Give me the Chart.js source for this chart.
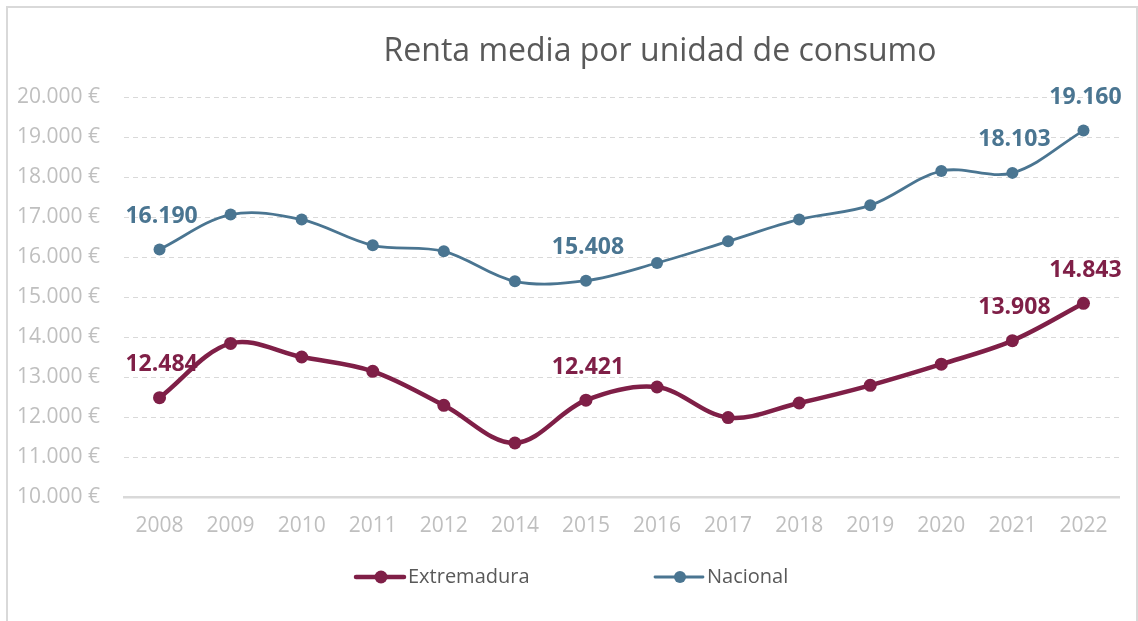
<!DOCTYPE html>
<html lang="es">
<head>
<meta charset="utf-8">
<title>Renta media por unidad de consumo</title>
<script src="https://cdn.jsdelivr.net/npm/chart.js@4.4.1/dist/chart.umd.min.js"></script>
<style>
  html, body { margin: 0; padding: 0; background: #fff; overflow: hidden; }
  #frame { position: absolute; left: 6px; top: 6px; width: 1128px; height: 700px; border: 2px solid #d9d9d9; }
  #wrap { position: absolute; left: 0; top: 0; width: 1138px; height: 621px; }
</style>
</head>
<body>
<div id="frame"></div>
<div id="wrap"><canvas id="renta" width="1138" height="621"></canvas></div>
<script>
// Renta media por unidad de consumo (euros)
const years = ["2008", "2009", "2010", "2011", "2012", "2014", "2015", "2016", "2017", "2018", "2019", "2020", "2021", "2022"];
const extremadura = [12484, 13840, 13500, 13142, 12292, 11350, 12421, 12750, 11985, 12350, 12792, 13320, 13908, 14843];
const nacional = [16190, 17060, 16935, 16292, 16142, 15393, 15408, 15850, 16392, 16940, 17292, 18150, 18103, 19160];
const labelledYears = ["2008", "2015", "2021", "2022"];

const FONT = "'Open Sans', sans-serif";
const TEXT_GREY = "#595959";
const TICK_GREY = "#bfbfbf";

// 16190 -> "16.190"
const fmt = (v) => String(Math.round(v)).replace(/\B(?=(\d{3})+(?!\d))/g, ".");

const chartTitle = {
  id: "chartTitle",
  afterDraw(chart) {
    const ctx = chart.ctx;
    ctx.save();
    ctx.font = "32px " + FONT;
    ctx.fillStyle = TEXT_GREY;
    ctx.textAlign = "center";
    ctx.textBaseline = "middle";
    ctx.fillText("Renta media por unidad de consumo", 660, 52);
    ctx.restore();
  },
};

// value labels above selected points
const valueLabels = {
  id: "valueLabels",
  afterDatasetsDraw(chart) {
    const ctx = chart.ctx;
    ctx.save();
    ctx.font = "bold 23px " + FONT;
    ctx.textAlign = "center";
    ctx.textBaseline = "middle";
    chart.data.datasets.forEach((ds, i) => {
      const meta = chart.getDatasetMeta(i);
      meta.data.forEach((pt, j) => {
        if (!labelledYears.includes(chart.data.labels[j])) return;
        ctx.fillStyle = ds.borderColor;
        ctx.fillText(fmt(ds.data[j]), pt.x + 2, pt.y - 33);
      });
    });
    ctx.restore();
  },
};

// line + marker legend under the axis
const lineLegend = {
  id: "lineLegend",
  afterDraw(chart) {
    const ctx = chart.ctx;
    const starts = [356, 655];
    const y = 577;
    ctx.save();
    ctx.font = "20px " + FONT;
    ctx.textBaseline = "middle";
    ctx.textAlign = "left";
    chart.data.datasets.forEach((ds, i) => {
      const x0 = starts[i];
      ctx.strokeStyle = ds.borderColor;
      ctx.lineWidth = ds.borderWidth;
      ctx.lineCap = "round";
      ctx.beginPath();
      ctx.moveTo(x0, y);
      ctx.lineTo(x0 + 48, y);
      ctx.stroke();
      ctx.fillStyle = ds.borderColor;
      ctx.beginPath();
      ctx.arc(x0 + 25, y, ds.pointRadius, 0, Math.PI * 2);
      ctx.fill();
      ctx.fillStyle = TEXT_GREY;
      ctx.fillText(ds.label, x0 + 52, y);
    });
    ctx.restore();
  },
};

new Chart(document.getElementById("renta"), {
  type: "line",
  data: {
    labels: years,
    datasets: [
      {
        label: "Extremadura",
        data: extremadura,
        borderColor: "#7f1f47",
        backgroundColor: "#7f1f47",
        borderWidth: 4.5,
        pointRadius: 6.5,
        pointBorderWidth: 0,
        tension: 0.35,
      },
      {
        label: "Nacional",
        data: nacional,
        borderColor: "#4a7591",
        backgroundColor: "#4a7591",
        borderWidth: 2.8,
        pointRadius: 6,
        pointBorderWidth: 0,
        tension: 0.35,
      },
    ],
  },
  options: {
    responsive: false,
    animation: false,
    layout: { padding: { top: 97, right: 19, bottom: 0, left: 0 } },
    plugins: {
      legend: { display: false },
      title: { display: false },
      tooltip: { enabled: false },
    },
    scales: {
      x: {
        offset: true,
        grid: { color: "rgba(0,0,0,0)", drawTicks: false },
        border: { display: true, color: "#d9d9d9", width: 2.5 },
        ticks: {
          color: TICK_GREY,
          font: { family: FONT, size: 21 },
          padding: 16,
          maxRotation: 0,
          autoSkip: false,
        },
        afterFit(scale) {
          scale.height = 124;
        },
      },
      y: {
        min: 10000,
        max: 20000,
        grid: { color: "#d9d9d9", lineWidth: 1, drawTicks: false },
        border: { display: false, dash: [5, 4] },
        ticks: {
          stepSize: 1000,
          color: TICK_GREY,
          font: { family: FONT, size: 21 },
          padding: 24,
          callback: (v) => fmt(v) + " €",
        },
        afterFit(scale) {
          scale.width = 124;
        },
      },
    },
  },
  plugins: [chartTitle, valueLabels, lineLegend],
});
</script>
</body>
</html>
